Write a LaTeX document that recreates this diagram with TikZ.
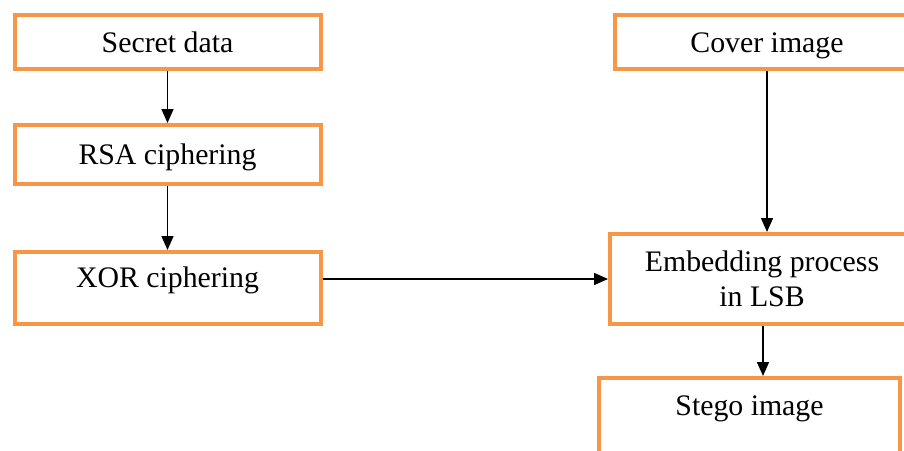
\documentclass[tikz,border=0pt]{standalone}
\usepackage{fontspec}
\setmainfont{Liberation Serif}
\usepackage{tikz}
\usetikzlibrary{positioning,arrows.meta}

\definecolor{boxorange}{RGB}{247,150,70}

\begin{document}
\begin{tikzpicture}[
  font=\fontsize{29.8}{35}\selectfont,
  blk/.style = {draw=boxorange, line width=4pt, align=center, inner sep=2pt,
                minimum width=306pt, fill=white, text height=26pt, text depth=6pt},
  ar/.style  = {-{Triangle[length=14pt, width=12pt]}, line width=1.5pt}
]

\useasboundingbox (0,0) rectangle (904pt,-450pt);
\clip (0,0) rectangle (904pt,-450pt);

% ---- left column: secret data path ----------------------------------------
\node[blk, minimum height=54pt] (secret) at (167.5pt,-42pt) {Secret data};
\node[blk, below=52pt of secret, minimum height=59pt] (rsa) {RSA ciphering};
\node[blk, below=64pt of rsa, minimum height=72pt, text depth=27pt] (xor)
  {XOR ciphering};

\draw[ar] (secret) -- (rsa);
\draw[ar] (rsa) -- (xor);

% ---- right column: cover image path ---------------------------------------
\node[blk, minimum width=304pt, minimum height=54pt] (cover) at (767pt,-42pt)
  {Cover image};
\node[draw=boxorange, line width=4pt, align=center, inner sep=2pt, fill=white,
      below=161pt of cover, xshift=-5pt, minimum width=304pt,
      minimum height=90pt] (embed) {Embedding process\\in LSB};
\node[blk, below=50pt of embed, xshift=-12.5pt, minimum width=301pt,
      minimum height=90pt, text depth=42pt] (stego) {Stego image};

\draw[ar] (cover.south) -- (cover.south |- embed.north);
\draw[ar] (embed.west -| xor.east) -- (embed.west);
\draw[ar] ([xshift=1pt]embed.south) -- ([xshift=1pt]embed.south |- stego.north);

\end{tikzpicture}
\end{document}
